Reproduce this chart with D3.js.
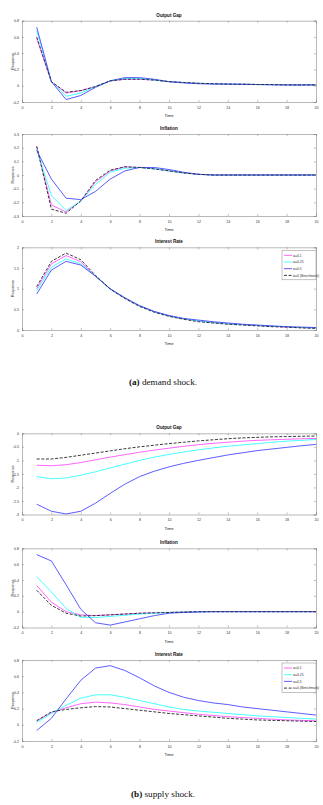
<!DOCTYPE html>
<html><head><meta charset="utf-8">
<script src="https://cdn.jsdelivr.net/npm/d3@7"></script>
<style>html,body{margin:0;padding:0;background:#fff;}svg{display:block;}</style>
</head><body>
<script>
// ---------- DATA ----------
const time = d3.range(1, 21);
const xTicks = [0,2,4,6,8,10,12,14,16,18,20];
const seriesNames = ["α=0.1", "α=0.25", "α=0.5", "α=0 (Benchmark)"];

// (a) demand shock
const dOutA01 = [0.58,0.05,-0.09,-0.06,-0.01,0.06,0.08,0.08,0.07,0.05,0.04,0.03,0.025,0.02,0.02,0.015,0.015,0.01,0.01,0.01];
const dOutA025= [0.68,0.05,-0.13,-0.09,-0.01,0.06,0.09,0.09,0.07,0.05,0.04,0.03,0.025,0.02,0.02,0.015,0.015,0.01,0.01,0.01];
const dOutA05 = [0.72,0.05,-0.17,-0.12,-0.02,0.06,0.10,0.10,0.08,0.05,0.035,0.025,0.02,0.02,0.015,0.015,0.01,0.01,0.01,0.01];
const dOutA0  = [0.60,0.05,-0.08,-0.06,-0.01,0.06,0.08,0.08,0.07,0.05,0.04,0.03,0.025,0.02,0.02,0.015,0.015,0.01,0.01,0.01];

const dInfA01 = [0.21,-0.22,-0.27,-0.19,-0.05,0.03,0.06,0.055,0.045,0.03,0.015,0.005,0,0,0,0,0,0,0,0];
const dInfA025= [0.19,-0.15,-0.26,-0.19,-0.07,0.02,0.05,0.055,0.045,0.03,0.015,0.005,0,0,0,0,0,0,0,0];
const dInfA05 = [0.18,-0.03,-0.17,-0.18,-0.12,-0.03,0.03,0.055,0.055,0.04,0.02,0.005,0,0,0,0,0,0,0,0];
const dInfA0  = [0.21,-0.25,-0.28,-0.19,-0.04,0.035,0.06,0.055,0.045,0.03,0.015,0.005,0,0,0,0,0,0,0,0];

const dIntA01 = [1.00,1.60,1.80,1.65,1.30,0.99,0.77,0.58,0.44,0.34,0.27,0.22,0.18,0.15,0.13,0.11,0.09,0.07,0.06,0.05];
const dIntA025= [0.95,1.52,1.72,1.60,1.30,0.99,0.77,0.58,0.44,0.34,0.27,0.22,0.18,0.15,0.13,0.11,0.09,0.08,0.06,0.05];
const dIntA05 = [0.87,1.45,1.66,1.57,1.30,1.00,0.78,0.59,0.45,0.35,0.28,0.24,0.20,0.17,0.14,0.12,0.10,0.08,0.07,0.06];
const dIntA0  = [1.05,1.66,1.86,1.70,1.32,0.99,0.76,0.57,0.43,0.33,0.26,0.20,0.17,0.14,0.12,0.10,0.08,0.07,0.05,0.04];

// (b) supply shock
const sOutA01 = [-1.18,-1.20,-1.16,-1.08,-0.98,-0.88,-0.79,-0.70,-0.62,-0.55,-0.48,-0.42,-0.37,-0.33,-0.29,-0.26,-0.24,-0.22,-0.20,-0.19];
const sOutA025= [-1.60,-1.68,-1.65,-1.55,-1.42,-1.28,-1.14,-1.00,-0.88,-0.78,-0.69,-0.61,-0.54,-0.48,-0.43,-0.38,-0.33,-0.29,-0.26,-0.23];
const sOutA05 = [-2.62,-2.88,-2.98,-2.88,-2.58,-2.22,-1.88,-1.60,-1.40,-1.24,-1.11,-1.00,-0.90,-0.80,-0.72,-0.64,-0.58,-0.52,-0.46,-0.41];
const sOutA0  = [-0.95,-0.95,-0.89,-0.81,-0.73,-0.65,-0.57,-0.50,-0.44,-0.38,-0.33,-0.28,-0.24,-0.20,-0.17,-0.15,-0.13,-0.12,-0.11,-0.10];

const sInfA01 = [0.33,0.12,0.00,-0.04,-0.05,-0.04,-0.03,-0.02,-0.015,-0.01,-0.005,0,0,0,0,0,0,0,0,0];
const sInfA025= [0.44,0.25,0.04,-0.07,-0.075,-0.06,-0.045,-0.03,-0.02,-0.01,-0.005,0,0,0,0,0,0,0,0,0];
const sInfA05 = [0.72,0.64,0.34,0.03,-0.14,-0.17,-0.13,-0.09,-0.05,-0.02,-0.01,-0.005,0,0,0,0,0,0,0,0];
const sInfA0  = [0.27,0.08,-0.02,-0.055,-0.05,-0.04,-0.03,-0.02,-0.015,-0.01,-0.005,0,0,0,0,0,0,0,0,0];

const sIntA01 = [0.05,0.15,0.21,0.26,0.28,0.27,0.25,0.22,0.19,0.17,0.15,0.13,0.115,0.10,0.09,0.08,0.07,0.06,0.055,0.05];
const sIntA025= [0.03,0.14,0.24,0.33,0.37,0.37,0.34,0.30,0.26,0.22,0.19,0.17,0.155,0.14,0.125,0.11,0.10,0.09,0.08,0.07];
const sIntA05 = [-0.07,0.08,0.32,0.55,0.70,0.73,0.67,0.58,0.48,0.40,0.34,0.30,0.27,0.25,0.22,0.20,0.18,0.16,0.14,0.12];
const sIntA0  = [0.05,0.16,0.19,0.21,0.225,0.22,0.20,0.18,0.16,0.14,0.125,0.11,0.095,0.08,0.07,0.06,0.055,0.05,0.045,0.04];

const panelTitles = ["Output Gap","Inflation","Interest Rate","Output Gap","Inflation","Interest Rate"];
const yDomains = [[-0.2,0.8],[-0.3,0.3],[0,2],[-3,0],[-0.2,0.8],[-0.2,0.8]];
const yTickVals = [
  [-0.2,0,0.2,0.4,0.6,0.8],
  [-0.3,-0.2,-0.1,0,0.1,0.2,0.3],
  [0,0.5,1,1.5,2],
  [-3,-2.5,-2,-1.5,-1,-0.5,0],
  [-0.2,0,0.2,0.4,0.6,0.8],
  [-0.2,0,0.2,0.4,0.6,0.8]
];
const panelSeries = [
  [dOutA01,dOutA025,dOutA05,dOutA0],
  [dInfA01,dInfA025,dInfA05,dInfA0],
  [dIntA01,dIntA025,dIntA05,dIntA0],
  [sOutA01,sOutA025,sOutA05,sOutA0],
  [sInfA01,sInfA025,sInfA05,sInfA0],
  [sIntA01,sIntA025,sIntA05,sIntA0]
];
const captions = [["(a)"," demand shock."],["(b)"," supply shock."]];

// ---------- LAYOUT / STYLE ----------
const W = 323, H = 805;
const left = 22, right = 316;
const boxes = [[20.7,102],[134,216],[247.3,330],[433.3,514.5],[548.3,627.5],[660,741]];
const legendPanels = [2,5];
const captionY = [384.5,797];
const colors = ["#ff55ff","#33ffff","#4a4aff","#222"];
const dashes = [null,null,null,"3,1.6"];

const svg = d3.select("body").append("svg").attr("width",W).attr("height",H)
  .style("font-family","'Liberation Sans', Arial, sans-serif");

const x = d3.scaleLinear().domain([0,20]).range([left,right]);

panelSeries.forEach((series,i)=>{
  const [top,bottom] = boxes[i];
  const y = d3.scaleLinear().domain(yDomains[i]).range([bottom,top]);
  const g = svg.append("g");

  // lines
  const line = d3.line().x((d,k)=>x(time[k])).y(d=>y(d));
  series.forEach((s,j)=>{
    g.append("path").datum(s).attr("d",line).attr("fill","none")
      .attr("stroke",colors[j]).attr("stroke-width",0.9)
      .attr("stroke-dasharray",dashes[j]);
  });

  // axes (inward ticks on all sides)
  const fmt = d=> (Math.round(d*10)/10).toString();
  const ax = g.append("g").attr("transform",`translate(0,${bottom})`)
    .call(d3.axisBottom(x).tickValues(xTicks).tickSize(-2.2).tickPadding(4).tickFormat(d3.format("d")));
  const axT = g.append("g").attr("transform",`translate(0,${top})`)
    .call(d3.axisTop(x).tickValues(xTicks).tickSize(-2.2).tickFormat(""));
  const ay = g.append("g").attr("transform",`translate(${left},0)`)
    .call(d3.axisLeft(y).tickValues(yTickVals[i]).tickSize(-2.2).tickPadding(3).tickFormat(fmt));
  const ayR = g.append("g").attr("transform",`translate(${right},0)`)
    .call(d3.axisRight(y).tickValues(yTickVals[i]).tickSize(-2.2).tickFormat(""));
  [ax,axT,ay,ayR].forEach(a=>{
    a.selectAll("path").attr("stroke","#888").attr("stroke-width",0.6);
    a.selectAll("line").attr("stroke","#888").attr("stroke-width",0.5);
    a.selectAll("text").attr("font-size",3.6).attr("fill","#333").attr("font-family","'Liberation Sans', Arial, sans-serif");
  });

  // title
  g.append("text").attr("x",(left+right)/2).attr("y",top-4).attr("text-anchor","middle")
    .attr("font-size",4.6).attr("font-weight","bold").attr("fill","#111").text(panelTitles[i]);
  // x label
  g.append("text").attr("x",(left+right)/2).attr("y",bottom+15).attr("text-anchor","middle")
    .attr("font-size",4.2).attr("fill","#222").text("Time");
  // y label
  g.append("text").attr("transform",`translate(14,${(top+bottom)/2}) rotate(-90)`)
    .attr("text-anchor","middle").attr("font-size",3.8).attr("fill","#333").text("Response");

  // legend
  if (legendPanels.includes(i)) {
    const lx = 282, ly = top + 3, lw = 34, lh = 29.5;
    const lg = g.append("g");
    lg.append("rect").attr("x",lx).attr("y",ly).attr("width",lw).attr("height",lh)
      .attr("fill","#fff").attr("stroke","#888").attr("stroke-width",0.5);
    seriesNames.forEach((n,j)=>{
      const yy = ly + 5 + j*6.7;
      lg.append("line").attr("x1",lx+2).attr("x2",lx+10).attr("y1",yy).attr("y2",yy)
        .attr("stroke",colors[j]).attr("stroke-width",0.9).attr("stroke-dasharray",dashes[j]);
      lg.append("text").attr("x",lx+11).attr("y",yy+1.2).attr("font-size",3.4)
        .attr("fill","#333").text(n);
    });
  }
});

// captions
captions.forEach((c,i)=>{
  const t = svg.append("text").attr("x",163).attr("y",captionY[i]).attr("text-anchor","middle")
    .attr("font-family","'Liberation Serif','Times New Roman',serif").attr("font-size",9.2).attr("fill","#111");
  t.append("tspan").attr("font-weight","bold").text(c[0]);
  t.append("tspan").text(c[1]);
});
</script>
</body></html>
